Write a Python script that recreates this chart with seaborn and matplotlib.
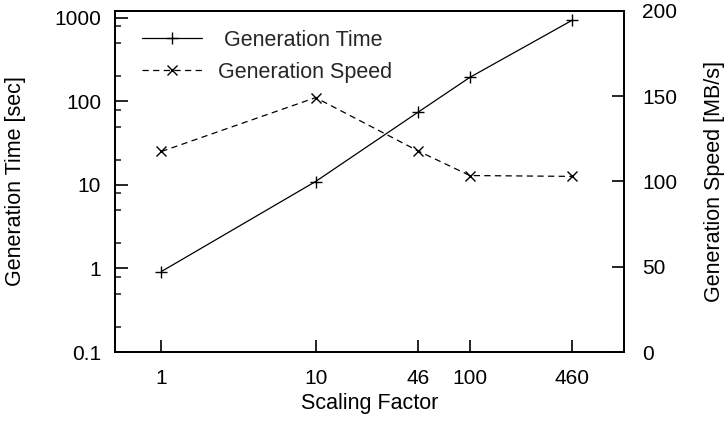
import matplotlib
matplotlib.use("Agg")
import matplotlib.pyplot as plt
import matplotlib.ticker as mticker
import seaborn as sns
import pandas as pd

# Data
scaling_factor = [1, 10, 46, 100, 460]
generation_time = [0.92, 11.0, 74, 194, 935]
generation_speed = [117.6, 149.2, 118, 103.5, 103]
x_tick_labels = ["1", "10", "46", "100", "460"]
left_ticks = [0.1, 1, 10, 100, 1000]
left_tick_labels = ["0.1", "1", "10", "100", "1000"]
right_ticks = [0, 50, 100, 150, 200]

sns.set_theme(style="white")
plt.rcParams['font.family'] = ['Liberation Sans', 'DejaVu Sans']

df = pd.DataFrame({"sf": scaling_factor, "time": generation_time, "speed": generation_speed})

fig = plt.figure(figsize=(7.24, 4.22), dpi=100)
ax = fig.add_axes([115/724, 1 - 352/422, (624-115)/724, (352-11)/422])
ax2 = ax.twinx()

fs = 15
lfs = 15.5
sns.lineplot(data=df, x="sf", y="time", ax=ax, color="black", lw=0.9,
             marker="+", markersize=8.5, markeredgewidth=1.0, markeredgecolor="black",
             label="Generation Time", legend=False)
sns.lineplot(data=df, x="sf", y="speed", ax=ax2, color="black", lw=0.9, linestyle=(0, (5, 3.5)),
             marker="x", markersize=7, markeredgewidth=1.0, markeredgecolor="black",
             label="Generation Speed", legend=False)

ax.set_xscale("log")
ax.set_yscale("log")
ax.set_xlim(0.5, 1000)
ax.set_ylim(0.1, 1210)
ax2.set_ylim(0, 200)

ax.xaxis.set_major_locator(mticker.FixedLocator(scaling_factor))
ax.xaxis.set_major_formatter(mticker.FixedFormatter(x_tick_labels))
ax.xaxis.set_minor_locator(mticker.NullLocator())
ax.yaxis.set_major_locator(mticker.FixedLocator(left_ticks))
ax.yaxis.set_major_formatter(mticker.FixedFormatter(left_tick_labels))
ax.yaxis.set_minor_locator(mticker.LogLocator(base=10, subs=[2, 5, 8]))
ax.yaxis.set_minor_formatter(mticker.NullFormatter())
ax2.yaxis.set_major_locator(mticker.FixedLocator(right_ticks))

for a in (ax, ax2):
    for s in a.spines.values():
        s.set_color("black")
        s.set_linewidth(1.3)

ax.tick_params(axis="x", which="major", direction="in", length=9, width=1.2, pad=12,
               labelsize=fs, colors="black", bottom=True, top=False)
ax.tick_params(axis="y", which="major", direction="in", length=9, width=1.2, pad=10,
               labelsize=fs, colors="black", left=True, right=False)
ax.tick_params(axis="y", which="minor", direction="in", length=4.5, width=1.2,
               left=True, right=False)
ax2.tick_params(axis="y", which="major", direction="in", length=9, width=1.2, pad=13,
                labelsize=fs, colors="black", right=True, left=False)

ax.set_xlabel("Scaling Factor", fontsize=lfs, color="black", labelpad=4)
ax.set_ylabel("Generation Time [sec]", fontsize=lfs, color="black", labelpad=20)
ax2.set_ylabel("Generation Speed [MB/s]", fontsize=lfs, color="black", labelpad=19)

h1, l1 = ax.get_legend_handles_labels()
h2, l2 = ax2.get_legend_handles_labels()
leg = ax2.legend(h1 + h2, [" Generation Time", "Generation Speed"], loc="upper left",
                 bbox_to_anchor=(0.053, 0.945), frameon=False, fontsize=lfs,
                 handlelength=2.8, handletextpad=0.75, borderpad=0, borderaxespad=0,
                 labelspacing=0.5)

fig.savefig("out.png", dpi=100)
